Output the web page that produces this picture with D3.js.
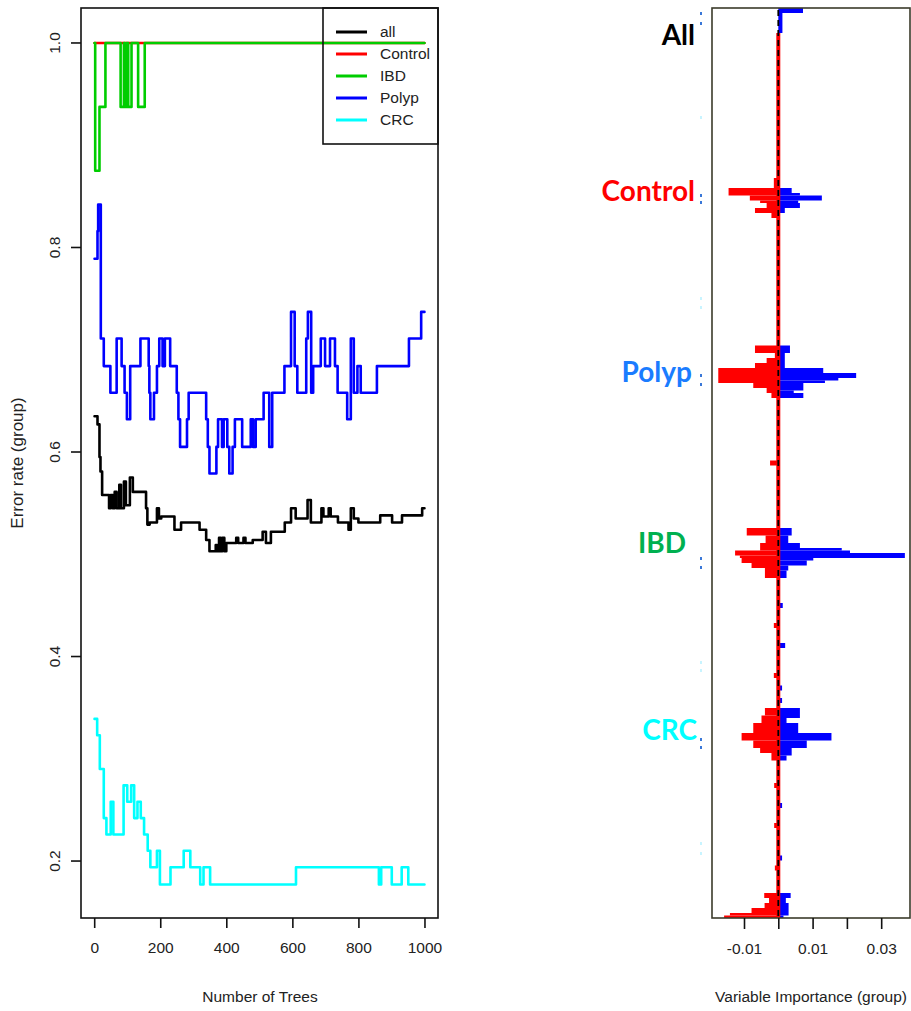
<!DOCTYPE html>
<html><head><meta charset="utf-8">
<script src="https://cdn.jsdelivr.net/npm/d3@7"></script>
<style>body{margin:0;background:#fff}svg{display:block}</style>
</head><body>
<svg id="c" width="911" height="1011"></svg>
<script>
// ---------- data: left panel (OOB error rate by number of trees) ----------
const treeTicks = [0, 200, 400, 600, 800, 1000];
const errTicks = [0.2, 0.4, 0.6, 0.8, 1.0];
const errTickLabels = ["0.2", "0.4", "0.6", "0.8", "1.0"];
const classNames = ["all", "Control", "IBD", "Polyp", "CRC"];
const classColors = ["#000000", "#ff0000", "#00cd00", "#0000ff", "#00ffff"];

// [tree, error] change points (step function)
const allErr = [[1,0.635],[10,0.627],[16,0.595],[19,0.581],[24,0.558],[45,0.545],[50,0.558],[56,0.545],[62,0.561],[68,0.545],[76,0.568],[81,0.545],[90,0.571],[96,0.548],[108,0.575],[117,0.561],[157,0.545],[161,0.529],[168,0.531],[190,0.545],[196,0.535],[203,0.537],[243,0.524],[263,0.531],[319,0.524],[339,0.514],[349,0.503],[368,0.509],[372,0.503],[378,0.516],[383,0.503],[388,0.516],[394,0.503],[400,0.511],[430,0.516],[436,0.511],[452,0.516],[458,0.511],[480,0.514],[510,0.522],[520,0.511],[535,0.522],[577,0.531],[596,0.545],[610,0.535],[646,0.553],[656,0.531],[688,0.545],[694,0.537],[710,0.545],[716,0.537],[738,0.531],[770,0.524],[777,0.545],[786,0.535],[800,0.531],[866,0.538],[902,0.531],[932,0.538],[993,0.545],[1000,0.545]];
const controlErr = [[1,1.0],[1000,1.0]];
const ibdErr = [[1,1.0],[3,0.875],[16,0.9375],[34,1.0],[80,0.9375],[90,1.0],[93,0.9375],[98,1.0],[103,0.9375],[113,1.0],[133,0.9375],[153,1.0],[1000,1.0]];
const polypErr = [[1,0.789],[10,0.816],[12,0.842],[20,0.711],[29,0.684],[49,0.658],[68,0.711],[83,0.684],[92,0.658],[99,0.632],[109,0.684],[140,0.711],[165,0.684],[167,0.658],[170,0.632],[181,0.658],[190,0.684],[197,0.711],[207,0.684],[214,0.711],[230,0.684],[250,0.658],[255,0.632],[260,0.605],[281,0.632],[286,0.658],[339,0.632],[344,0.605],[349,0.579],[370,0.605],[375,0.632],[387,0.605],[392,0.632],[403,0.605],[409,0.579],[419,0.605],[426,0.632],[448,0.605],[474,0.632],[481,0.605],[489,0.632],[513,0.658],[530,0.605],[539,0.658],[576,0.684],[596,0.737],[607,0.684],[615,0.658],[642,0.711],[647,0.737],[657,0.658],[663,0.684],[686,0.711],[699,0.684],[714,0.711],[729,0.684],[737,0.658],[766,0.632],[777,0.711],[786,0.658],[797,0.684],[807,0.658],[856,0.684],[953,0.711],[990,0.737],[1000,0.737]];
const crcErr = [[1,0.339],[9,0.323],[17,0.290],[29,0.242],[37,0.226],[50,0.258],[58,0.226],[89,0.274],[100,0.258],[112,0.274],[121,0.242],[131,0.258],[141,0.242],[151,0.226],[162,0.210],[170,0.194],[190,0.210],[199,0.177],[231,0.194],[271,0.210],[291,0.194],[321,0.177],[331,0.194],[351,0.177],[611,0.194],[862,0.177],[869,0.194],[901,0.177],[931,0.194],[951,0.177],[1000,0.177]];

// ---------- data: right panel (variable importance by group) ----------
const impTicks = [-0.01, 0, 0.01, 0.02, 0.03];
const impTickLabels = ["-0.01", "", "0.01", "", "0.03"];
// [rowFrom, rowTo, importance]; rows are variable positions from the top
const allPos = [[0,2,0.0072],[2,10,0.0012]];
const ctrlNeg = [[68,72,-0.0013],[72,75,-0.0145],[75,77,-0.0083],[77,78,-0.0053],[78,80,-0.0034],[80,82,-0.0068],[82,84,-0.002]];
const ctrlPos = [[72,74,0.0039],[74,75,0.0063],[75,77,0.0127],[77,78,0.0058],[78,80,0.0063],[80,82,0.0019]];
const polypNeg = [[135,138,-0.0068],[138,140,-0.001],[140,142,-0.0034],[142,144,-0.0068],[144,150,-0.0175],[150,152,-0.0073],[152,154,-0.0034],[154,156,-0.002],[181,183,-0.0024]];
const polypPos = [[135,138,0.0034],[138,144,0.0019],[144,146,0.0131],[146,148,0.0227],[148,149,0.0175],[149,150,0.0136],[150,153,0.0073],[153,154,0.0045],[154,156,0.0073]];
const ibdNeg = [[208,211,-0.0092],[211,214,-0.0037],[214,217,-0.0053],[217,219,-0.0126],[219,220,-0.0112],[220,222,-0.0107],[222,224,-0.0078],[224,228,-0.0039],[246,248,-0.0013],[266,268,-0.0013]];
const ibdPos = [[208,211,0.0039],[211,214,0.0029],[214,216,0.0063],[216,217,0.0185],[217,218,0.0209],[218,220,0.0369],[220,221,0.0102],[221,223,0.0083],[223,225,0.0029],[225,228,0.0024],[238,240,0.0013],[254,256,0.002],[271,273,0.0011],[276,278,0.0011]];
const crcNeg = [[280,283,-0.0039],[283,286,-0.0049],[286,290,-0.0073],[290,293,-0.0107],[293,296,-0.0073],[296,298,-0.0053],[298,301,-0.002],[310,312,-0.0012],[326,328,-0.0012],[343,345,-0.001]];
const crcPos = [[280,284,0.0063],[284,286,0.0024],[286,290,0.0058],[290,293,0.0155],[293,296,0.0083],[296,299,0.0039],[299,301,0.0024],[318,320,0.0011],[339,341,0.0011]];
const lastNeg = [[354,356,-0.0041],[356,358,-0.0027],[358,360,-0.004],[360,362,-0.0078],[362,363,-0.0141],[363,364,-0.0158]];
const lastPos = [[354,356,0.0036],[356,358,0.0022],[358,360,0.003],[360,363,0.003],[363,364,0.0015]];
const groupLabels = ["All", "Control", "Polyp", "IBD", "CRC"];
const groupColors = ["#000000", "#ff0000", "#1a7cff", "#00b050", "#00ffff"];
const groupLabelRows = [14.8, 77.2, 149.6, 218, 292.8];
const markRows = [2, 6, 74.8, 77.6, 146.8, 150.4, 220, 223.6, 292.4, 295.6];
const faintMarkRows = [43.6, 116, 119.6, 261.6, 264.8, 334, 338];

// ---------- drawing ----------
const svg = d3.select("#c");
const axisFont = "'Liberation Sans', Arial, sans-serif";
const txt = "#222";

// Left panel
const L = {l: 81, r: 438, t: 8, b: 918};
const xT = d3.scaleLinear().domain([-39.96, 1040.96]).range([L.l, L.r]);
const yE = d3.scaleLinear().domain([0.1443, 1.0342]).range([L.b, L.t]);

const xAxL = svg.append("g").attr("transform", `translate(0,${L.b})`)
  .call(d3.axisBottom(xT).tickValues(treeTicks).tickSize(10).tickPadding(14).tickFormat(d3.format("d")));
const yAxL = svg.append("g").attr("transform", `translate(${L.l},0)`)
  .call(d3.axisLeft(yE).tickValues(errTicks).tickSize(10).tickFormat((d, i) => errTickLabels[i]));
[xAxL, yAxL].forEach(g => {
  g.select(".domain").remove();
  g.selectAll("line").attr("stroke", "#111").attr("stroke-width", 1.6);
  g.selectAll("text").attr("font-family", axisFont).attr("font-size", 15.5).attr("fill", txt);
});
yAxL.selectAll("text")
  .attr("transform", d => `translate(${55 - L.l + 10},${yE(d)}) rotate(-90)`)
  .attr("x", 0).attr("y", 0).attr("dy", "0.35em")
  .attr("text-anchor", "middle");
yAxL.selectAll(".tick").attr("transform", null);
yAxL.selectAll(".tick line").attr("y1", d => yE(d)).attr("y2", d => yE(d)).attr("x1", 0).attr("x2", -10);
yAxL.selectAll(".tick text").attr("transform", d => `translate(${55 - L.l},${yE(d)}) rotate(-90)`);

const series = [allErr, controlErr, ibdErr, polypErr, crcErr];
const line = d3.line().x(d => xT(d[0])).y(d => yE(d[1])).curve(d3.curveStepAfter);
series.forEach((s, i) => {
  svg.append("path").attr("d", line(s)).attr("fill", "none")
    .attr("stroke", classColors[i]).attr("stroke-width", 2.6)
    .attr("stroke-linejoin", "round").attr("stroke-linecap", "round");
});

svg.append("rect").attr("x", L.l).attr("y", L.t).attr("width", L.r - L.l).attr("height", L.b - L.t)
  .attr("fill", "none").attr("stroke", "#111").attr("stroke-width", 1.6);

// legend
const lg = svg.append("g");
lg.append("rect").attr("x", 323).attr("y", L.t).attr("width", L.r - 323).attr("height", 136)
  .attr("fill", "none").attr("stroke", "#111").attr("stroke-width", 1.6);
classNames.forEach((n, i) => {
  const y = 32 + i * 22;
  lg.append("line").attr("x1", 336).attr("x2", 367).attr("y1", y).attr("y2", y)
    .attr("stroke", classColors[i]).attr("stroke-width", 3);
  lg.append("text").attr("x", 380).attr("y", y).attr("dy", "0.35em")
    .attr("font-family", axisFont).attr("font-size", 15.5).attr("fill", txt).text(n);
});

svg.append("text").attr("x", 260).attr("y", 1002).attr("text-anchor", "middle")
  .attr("font-family", axisFont).attr("font-size", 15.5).attr("fill", txt).text("Number of Trees");
svg.append("text").attr("transform", "translate(23,463) rotate(-90)").attr("text-anchor", "middle")
  .attr("font-family", axisFont).attr("font-size", 17).attr("fill", txt).text("Error rate (group)");

// Right panel
const R = {l: 712, r: 910, t: 8, b: 918};
const xI = d3.scaleLinear().domain([-0.01933, 0.0384]).range([R.l, R.r]);
const yR = d3.scaleLinear().domain([0, 364]).range([R.t, R.b]);

function bars(data, color) {
  svg.append("g").selectAll("rect").data(data).join("rect")
    .attr("x", d => Math.min(xI(0), xI(d[2])))
    .attr("width", d => Math.abs(xI(d[2]) - xI(0)))
    .attr("y", d => yR(d[0]))
    .attr("height", d => yR(d[1]) - yR(d[0]))
    .attr("fill", color);
}
[ctrlNeg, polypNeg, ibdNeg, crcNeg, lastNeg].forEach(d => bars(d, "#ff0000"));
[allPos, ctrlPos, polypPos, ibdPos, crcPos, lastPos].forEach(d => bars(d, "#0000ff"));

svg.append("line").attr("x1", xI(0)).attr("x2", xI(0)).attr("y1", yR(10)).attr("y2", R.b)
  .attr("stroke", "#ff0000").attr("stroke-width", 4);
svg.append("line").attr("x1", xI(0)).attr("x2", xI(0)).attr("y1", R.t + 2).attr("y2", R.b)
  .attr("stroke", "#000").attr("stroke-width", 1.8).attr("stroke-dasharray", "6,4");

svg.append("rect").attr("x", R.l).attr("y", R.t).attr("width", R.r - R.l).attr("height", R.b - R.t)
  .attr("fill", "none").attr("stroke", "#3b3b2b").attr("stroke-width", 1.6);

const xAxR = svg.append("g").attr("transform", `translate(0,${R.b})`)
  .call(d3.axisBottom(xI).tickValues(impTicks).tickSize(11).tickPadding(14).tickFormat((d, i) => impTickLabels[i]));
xAxR.select(".domain").remove();
xAxR.selectAll("line").attr("stroke", "#111").attr("stroke-width", 1.6);
xAxR.selectAll("text").attr("font-family", axisFont).attr("font-size", 15.5).attr("fill", txt);

svg.append("text").attr("x", 811).attr("y", 1002).attr("text-anchor", "middle")
  .attr("font-family", axisFont).attr("font-size", 15.5).attr("fill", txt).text("Variable Importance (group)");

// group labels and small markers
const labelEnds = [695, 695, 692, 686, 697];
groupLabels.forEach((g, i) => {
  svg.append("text").attr("x", labelEnds[i]).attr("y", yR(groupLabelRows[i]))
    .attr("text-anchor", "end").attr("font-family", "Lato, 'Open Sans', sans-serif")
    .attr("font-weight", "bold").attr("font-size", 28).attr("fill", groupColors[i]).text(g);
});
svg.append("g").selectAll("rect").data(markRows).join("rect")
  .attr("x", 700).attr("y", d => yR(d) - 1).attr("width", 2).attr("height", 3).attr("fill", "#3a78d8");
svg.append("g").selectAll("rect").data(faintMarkRows).join("rect")
  .attr("x", 700).attr("y", d => yR(d) - 1).attr("width", 2).attr("height", 3).attr("fill", "#c8f4ff");
</script>
</body></html>
